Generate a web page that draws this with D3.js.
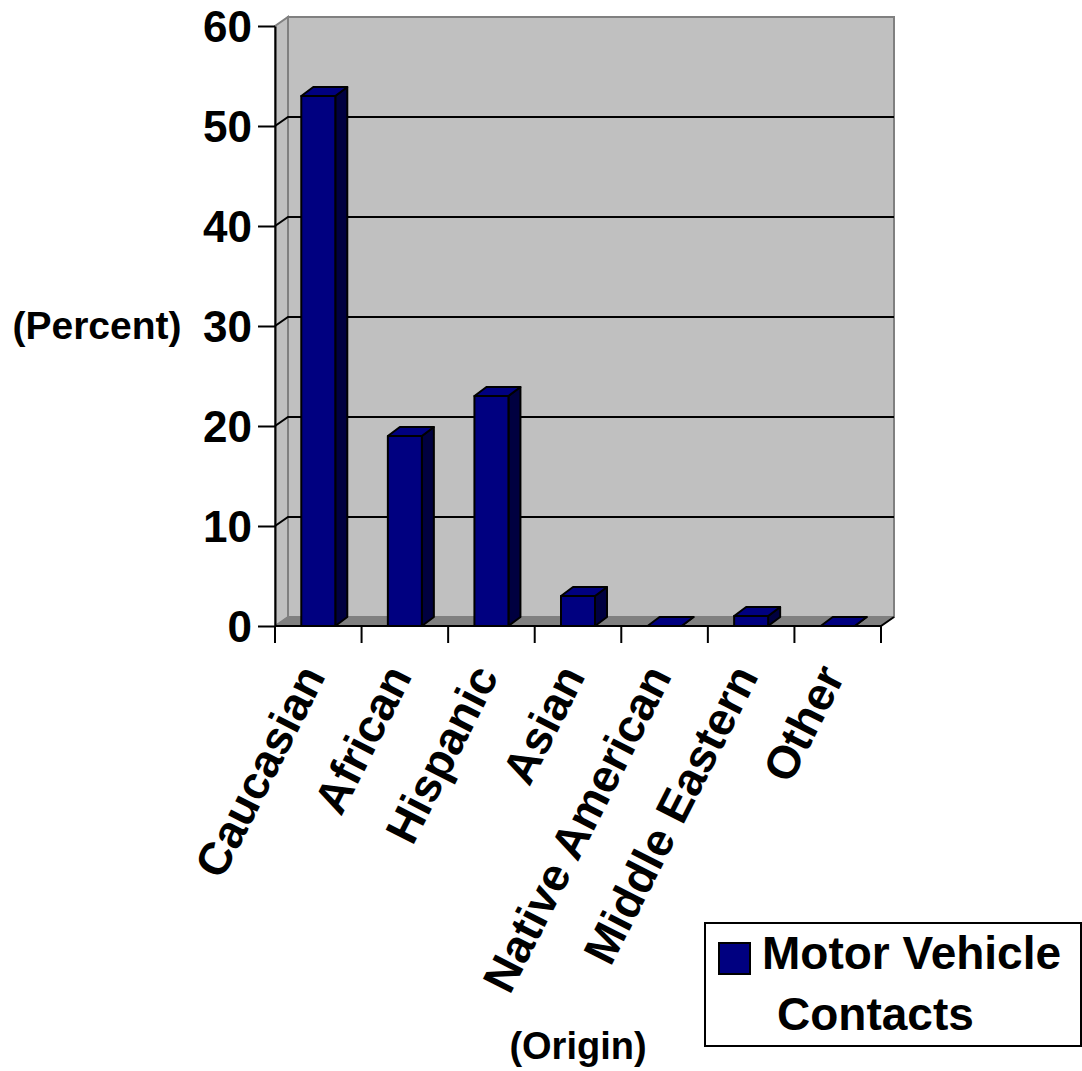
<!DOCTYPE html>
<html lang="en">
<head>
<meta charset="utf-8">
<script src="https://cdn.jsdelivr.net/npm/d3@7"></script>
<style>
  body { margin: 0; background: #fff; }
  svg text { font-family: "Liberation Sans", Arial, sans-serif; font-weight: bold; fill: #000; }
</style>
</head>
<body>
<div id="chart"></div>
<script>
// data
var categories = ["Caucasian", "African", "Hispanic", "Asian", "Native American", "Middle Eastern", "Other"];
var values = [53, 19, 23, 3, 0, 1, 0];
var yTicks = [0, 10, 20, 30, 40, 50, 60];
var seriesName = ["Motor Vehicle", "Contacts"];

(function() {
    var width = 1082, height = 1071;
    var plot = {left: 275, right: 881, top: 26, bottom: 626};
    var depth = {dx: 13, dy: -9};    // back wall offset
    var barDepth = {dx: 12, dy: -9};

    var svg = d3.select("#chart").append("svg")
        .attr("width", width)
        .attr("height", height);

    var x = d3.scaleBand().domain(categories).range([plot.left, plot.right]).padding(0);
    var y = d3.scaleLinear().domain([0, 60]).range([plot.bottom, plot.top]);
    var barW = 34;

    // side wall
    svg.append("polygon")
        .attr("points", [[plot.left, y(60)], [plot.left + depth.dx, y(60) + depth.dy], [plot.left + depth.dx, y(0) + depth.dy], [plot.left, y(0)]].join(" "))
        .attr("fill", "#c0c0c0")
        .attr("stroke", "#808080")
        .attr("stroke-width", 2);

    // back wall
    svg.append("rect")
        .attr("x", plot.left + depth.dx)
        .attr("y", y(60) + depth.dy)
        .attr("width", plot.right - plot.left)
        .attr("height", y(0) - y(60))
        .attr("fill", "#c0c0c0")
        .attr("stroke", "#808080")
        .attr("stroke-width", 2);

    // floor
    svg.append("polygon")
        .attr("points", [[plot.left, y(0)], [plot.left + depth.dx, y(0) + depth.dy], [plot.right + depth.dx, y(0) + depth.dy], [plot.right, y(0)]].join(" "))
        .attr("fill", "#808080")
        .attr("stroke", "#808080")
        .attr("stroke-width", 1);

    // gridlines on back and side wall
    svg.append("g")
        .attr("stroke", "#000").attr("stroke-width", 2).attr("fill", "none")
        .selectAll("path")
        .data(yTicks.filter(d => d > 0 && d < 60))
        .join("path")
        .attr("d", d => "M" + plot.left + "," + y(d) + "L" + (plot.left + depth.dx) + "," + (y(d) + depth.dy) + "H" + (plot.right + depth.dx));

    // bars (side, front, top)
    var bars = svg.append("g").attr("stroke", "#000").attr("stroke-width", 2).attr("stroke-linejoin", "round");
    var bx = d => x(d.c) + (x.step() - barW) / 2;
    var data = categories.map((c, i) => ({c: c, v: values[i]}));

    bars.selectAll(".side")
        .data(data)
        .join("polygon")
        .attr("class", "side")
        .attr("fill", "#000040")
        .attr("points", d => {
            var x1 = bx(d) + barW, yt = y(d.v), yb = y(0);
            return [[x1, yt], [x1 + barDepth.dx, yt + barDepth.dy], [x1 + barDepth.dx, yb + barDepth.dy], [x1, yb]].join(" ");
        });

    bars.selectAll(".front")
        .data(data)
        .join("rect")
        .attr("class", "front")
        .attr("fill", "#000080")
        .attr("x", d => bx(d))
        .attr("y", d => y(d.v))
        .attr("width", barW)
        .attr("height", d => y(0) - y(d.v));

    bars.selectAll(".topface")
        .data(data)
        .join("polygon")
        .attr("class", "topface")
        .attr("fill", "#000080")
        .attr("points", d => {
            var x0 = bx(d), yt = y(d.v);
            return [[x0, yt], [x0 + barDepth.dx, yt + barDepth.dy], [x0 + barW + barDepth.dx, yt + barDepth.dy], [x0 + barW, yt]].join(" ");
        });

    // x axis line with boundary ticks
    var axis = svg.append("g").attr("stroke", "#000").attr("stroke-width", 2).attr("fill", "none");
    axis.append("path").attr("d", "M" + plot.left + "," + y(0) + "H" + plot.right + "l" + depth.dx + "," + depth.dy);
    axis.selectAll(".tk")
        .data(categories.map(c => x(c)).concat([plot.right]))
        .join("path")
        .attr("class", "tk")
        .attr("d", d => "M" + d + "," + y(0) + "V" + (y(0) + 17));

    // y axis
    var yAxis = svg.append("g")
        .attr("transform", "translate(" + plot.left + ",0)")
        .call(d3.axisLeft(y).tickValues(yTicks).tickSize(17).tickPadding(6).tickSizeOuter(0));
    yAxis.select(".domain").attr("stroke-width", 2);
    yAxis.selectAll(".tick line").attr("stroke-width", 2);
    yAxis.selectAll(".tick text")
        .attr("font-size", 44)
        .attr("font-family", null)
        .attr("dy", "0.36em");

    // category labels
    svg.append("g").selectAll("text")
        .data(categories)
        .join("text")
        .attr("text-anchor", "end")
        .attr("font-size", 46)
        .attr("transform", d => "translate(" + (x(d) + x.step() / 2 + 8) + ",676) rotate(-63)")
        .text(d => d);

    // axis titles
    svg.append("text")
        .attr("x", 97).attr("y", 339)
        .attr("text-anchor", "middle")
        .attr("font-size", 39)
        .text("(Percent)");

    svg.append("text")
        .attr("x", 578).attr("y", 1059)
        .attr("text-anchor", "middle")
        .attr("font-size", 38)
        .text("(Origin)");

    // legend
    var legend = svg.append("g");
    legend.append("rect")
        .attr("x", 705).attr("y", 923)
        .attr("width", 376).attr("height", 123)
        .attr("fill", "#fff").attr("stroke", "#000").attr("stroke-width", 2);
    legend.append("rect")
        .attr("x", 719).attr("y", 943)
        .attr("width", 31).attr("height", 31)
        .attr("fill", "#000080").attr("stroke", "#000").attr("stroke-width", 2);
    legend.append("text")
        .attr("font-size", 46)
        .selectAll("tspan")
        .data(seriesName)
        .join("tspan")
        .attr("x", (d, i) => i === 0 ? 762 : 777)
        .attr("y", (d, i) => i === 0 ? 969 : 1030)
        .text(d => d);
})();
</script>
</body>
</html>
